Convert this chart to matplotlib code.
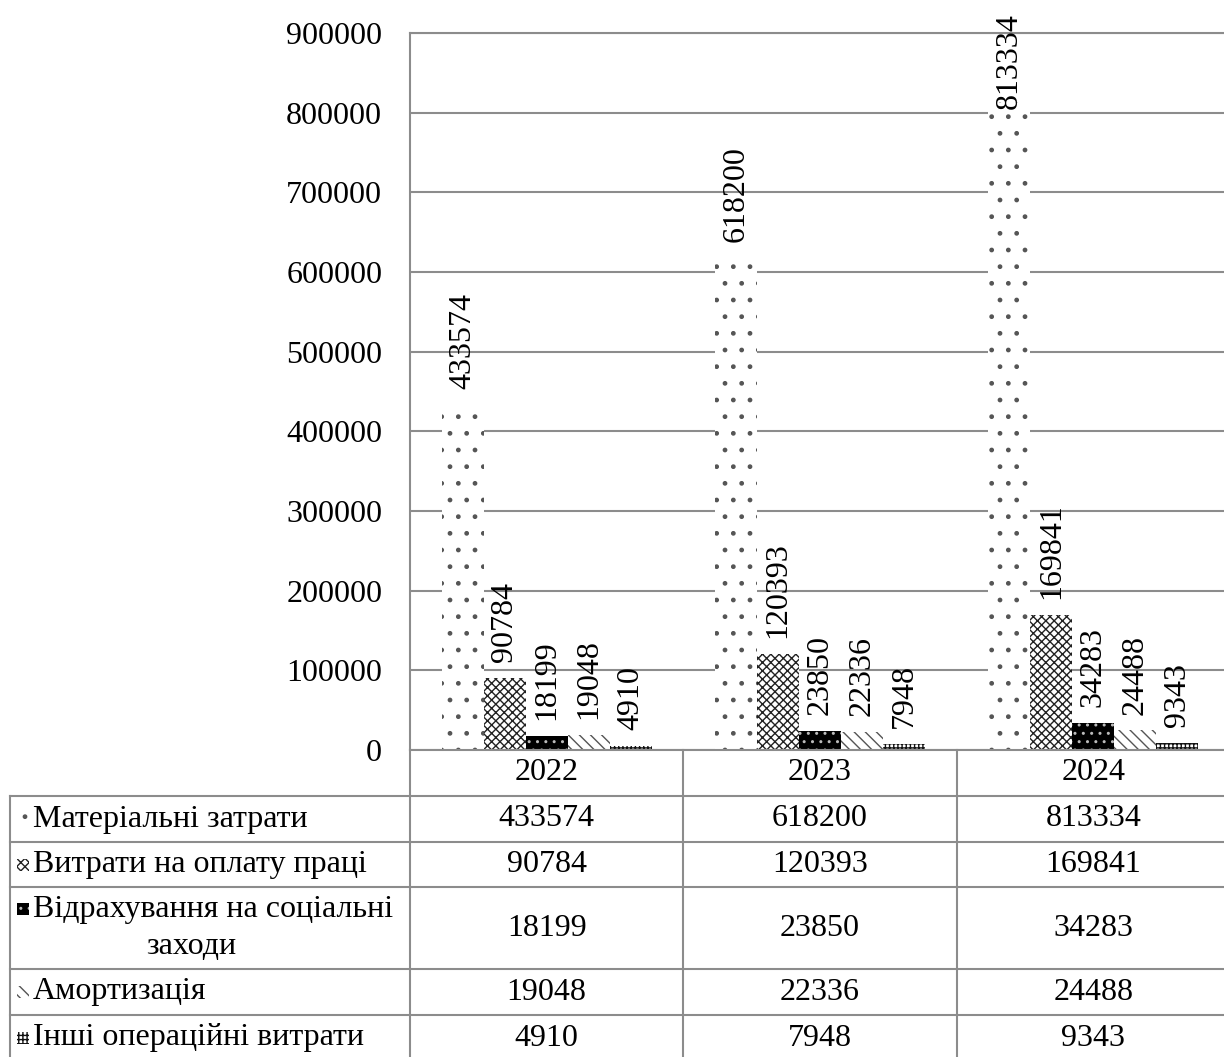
import matplotlib
matplotlib.use("Agg")
import numpy as np
import matplotlib.pyplot as plt
from matplotlib.patches import Rectangle
from matplotlib.lines import Line2D

# ---- data -------------------------------------------------------------
years = ["2022", "2023", "2024"]
series_names = [
    "Матеріальні затрати",
    "Витрати на оплату праці",
    "Відрахування на соціальні заходи",
    "Амортизація",
    "Інші операційні витрати",
]
material = [433574, 618200, 813334]
wages = [90784, 120393, 169841]
social = [18199, 23850, 34283]
amortization = [19048, 22336, 24488]
other = [4910, 7948, 9343]
y_ticks = [0, 100000, 200000, 300000, 400000, 500000, 600000, 700000, 800000, 900000]

series_values = [material, wages, social, amortization, other]

# fill styles: (face, hatch colour, hatch)
styles = [
    ("white", "#555555", "."),
    ("white", "#222222", "xxxx"),
    ("black", "#bbbbbb", ".."),
    ("white", "#555555", "\\\\\\"),
    ("white", "#111111", "++++"),
]

# ---- figure -----------------------------------------------------------
W, H, DPI = 1224, 1057, 100
plt.rcParams["font.family"] = ["Liberation Serif", "DejaVu Serif"]
plt.rcParams["hatch.linewidth"] = 1.0
FS = 23
GRID = "#8c8c8c"

fig = plt.figure(figsize=(W / DPI, H / DPI), dpi=DPI)

plot_left, plot_right = 410, 1230
plot_top, plot_bottom = 33, 750
ax = fig.add_axes([plot_left / W, (H - plot_bottom) / H,
                   (plot_right - plot_left) / W, (plot_bottom - plot_top) / H])

ax.set_xlim(-0.5, len(years) - 0.5)
ax.set_ylim(0, 900000)

n_series = len(series_values)
x = np.arange(len(years))
bar_w = 0.1536
labels = []
for i, (vals, (face, hcol, hatch)) in enumerate(zip(series_values, styles)):
    pos = x + (i - (n_series - 1) / 2) * bar_w
    ax.bar(pos, vals, width=bar_w, color=face, edgecolor=hcol, hatch=hatch,
           linewidth=0, zorder=2)
    for xp, v in zip(pos, vals):
        ann = ax.annotate(str(v), (xp, v), xytext=(0, 11.5), textcoords="offset points",
                          rotation=90, ha="center", va="bottom", fontsize=FS,
                          annotation_clip=False, zorder=3)
        labels.append(ann)

ax.set_yticks(y_ticks)
ax.set_yticklabels([str(t) for t in y_ticks])
ax.set_xticks([])
ax.tick_params(axis="y", length=0, pad=20, labelsize=FS)
ax.yaxis.grid(True, color=GRID, linewidth=1.5)
ax.set_axisbelow(True)
for side in ("left", "bottom", "top"):
    ax.spines[side].set_color(GRID)
    ax.spines[side].set_linewidth(1.5)
ax.spines["right"].set_visible(False)

# keep value labels inside the figure: push a label down if it would overflow
fig.canvas.draw()
renderer = fig.canvas.get_renderer()
top_limit = H - 13
for ann in labels:
    bb = ann.get_window_extent(renderer)
    if bb.y1 > top_limit:
        shift_px = bb.y1 - top_limit
        ox, oy = ann.xyann
        ann.xyann = (ox, oy - shift_px * 72 / DPI)

# ---- data table under the plot -----------------------------------------
tab = fig.add_axes([0, 0, 1, 1], facecolor="none")
tab.set_xlim(0, W)
tab.set_ylim(H, 0)
tab.axis("off")

col_w = (plot_right - plot_left) / len(years)
col_edges = [plot_left + k * col_w for k in range(len(years) + 1)]
col_centers = [plot_left + (k + 0.5) * col_w for k in range(len(years))]
table_left = 10
row_edges = [796, 842, 887, 969, 1015, 1061]

def hline(y, x0, x1):
    tab.add_line(Line2D([x0, x1], [y, y], color=GRID, linewidth=1.5))

def vline(xv, y0, y1):
    tab.add_line(Line2D([xv, xv], [y0, y1], color=GRID, linewidth=1.5))

for y in row_edges:
    hline(y, table_left, plot_right)
vline(table_left, row_edges[0], row_edges[-1])
for xe in col_edges[:-1]:
    vline(xe, plot_bottom, row_edges[-1])

# header: years
for xc, yr in zip(col_centers, years):
    tab.text(xc, (plot_bottom + row_edges[0]) / 2, yr, ha="center", va="center",
             fontsize=FS)

# rows: legend key, series name, values
for r, (name, vals, (face, hcol, hatch)) in enumerate(zip(series_names, series_values, styles)):
    y0, y1 = row_edges[r], row_edges[r + 1]
    yc = (y0 + y1) / 2
    for xc, v in zip(col_centers, vals):
        tab.text(xc, yc, str(v), ha="center", va="center", fontsize=FS)
    if r == 2:
        first, second = "Відрахування на соціальні", "заходи"
        y_line1 = yc - 19
        tab.text(33, y_line1, first, ha="left", va="center", fontsize=FS)
        tab.text(191, yc + 19, second, ha="center", va="center", fontsize=FS)
        key_y = y_line1
    else:
        tab.text(33, yc, name, ha="left", va="center", fontsize=FS)
        key_y = yc
    tab.add_patch(Rectangle((17, key_y - 6), 12, 12, facecolor=face, edgecolor=hcol,
                            hatch=hatch, linewidth=0))

fig.savefig("out.png", dpi=DPI)
